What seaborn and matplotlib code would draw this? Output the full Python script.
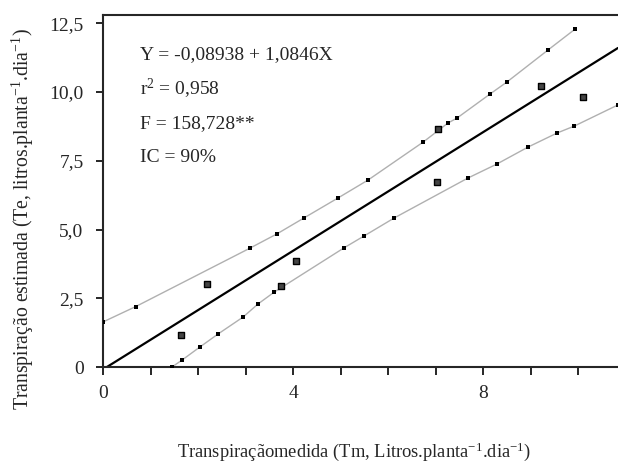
import matplotlib
matplotlib.use("Agg")
import matplotlib.pyplot as plt
import seaborn as sns
import pandas as pd

# measured vs estimated transpiration (observed points)
obs_x = [1.64, 2.19, 3.75, 4.06, 7.03, 7.05, 9.22, 10.10]
obs_y = [1.16, 3.02, 2.95, 3.85, 6.73, 8.65, 10.22, 9.82]

# fitted line, read at both ends
reg_x = [0.08, 10.84]
reg_y = [0.0, 11.60]

# upper and lower 90% band
up_x = [0.0, 0.69, 3.09, 3.66, 4.23, 4.95, 5.58, 6.74, 7.26, 7.45, 8.15, 8.50, 9.37, 9.94]
up_y = [1.64, 2.20, 4.32, 4.84, 5.42, 6.15, 6.80, 8.18, 8.87, 9.05, 9.93, 10.36, 11.53, 12.29]
lo_x = [1.45, 1.66, 2.04, 2.42, 2.95, 3.26, 3.60, 5.07, 5.49, 6.13, 7.68, 8.29, 8.95, 9.56, 9.92, 10.84]
lo_y = [0.0, 0.25, 0.73, 1.20, 1.82, 2.29, 2.72, 4.33, 4.76, 5.42, 6.87, 7.38, 8.00, 8.51, 8.76, 9.53]

y_ticks = [0, 2.5, 5.0, 7.5, 10.0, 12.5]
y_labels = ["0", "2,5", "5,0", "7,5", "10,0", "12,5"]
x_ticks = list(range(0, 11))
x_labels = ["0", "", "", "", "4", "", "", "", "8", "", ""]

stats_lines = ["Y = -0,08938 + 1,0846X", "r$^2$ = 0,958", "F = 158,728**", "IC = 90%"]

sns.set_style("ticks")
plt.rcParams["font.family"] = ["Liberation Serif", "DejaVu Serif"]
plt.rcParams["mathtext.fontset"] = "custom"
plt.rcParams["mathtext.rm"] = "Liberation Serif"
plt.rcParams["mathtext.it"] = "Liberation Serif:italic"
plt.rcParams["font.size"] = 14

fig = plt.figure(figsize=(6.18, 4.67), dpi=100)
ax = fig.add_axes([0.1667, 0.214, 0.8333, 0.754])

df_up = pd.DataFrame({"x": up_x, "y": up_y})
df_lo = pd.DataFrame({"x": lo_x, "y": lo_y})
for d in (df_up, df_lo):
    sns.lineplot(data=d, x="x", y="y", ax=ax, color="#b0b0b0", linewidth=1.0,
                 sort=False, estimator=None)
    sns.scatterplot(data=d, x="x", y="y", ax=ax, color="black", marker="s",
                    s=5, linewidth=0, zorder=3)

sns.lineplot(x=reg_x, y=reg_y, ax=ax, color="black", linewidth=1.6, estimator=None)
sns.scatterplot(x=obs_x, y=obs_y, ax=ax, marker="s", s=20, color="#444444",
                edgecolor="black", linewidth=1.0, zorder=4)

ax.set_xlim(0, 10.84)
ax.set_ylim(0, 12.8)
ax.set_xticks(x_ticks)
ax.set_xticklabels(x_labels)
ax.set_yticks(y_ticks)
ax.set_yticklabels(y_labels)
ax.tick_params(axis="x", direction="out", length=6, width=1.4, pad=7, labelsize=14)
ax.tick_params(axis="y", direction="out", length=5, width=1.4, pad=9, labelsize=14)

for side in ("left", "bottom", "top"):
    ax.spines[side].set_linewidth(1.5)
ax.spines["right"].set_visible(False)

ax.set_xlabel("Transpiraçãomedida (Tm, Litros.planta$^{-1}$.dia$^{-1}$)", fontsize=13.3,
              va="center")
ax.set_ylabel("Transpiração estimada (Te, litros.planta$^{-1}$.dia$^{-1}$)", fontsize=14.2,
              va="center")
ax.xaxis.set_label_coords(0.487, -0.24)
ax.yaxis.set_label_coords(-0.155, 0.42)

for i, line in enumerate(stats_lines):
    ax.text(0.072, 0.886 - i * 0.097, line, transform=ax.transAxes,
            fontsize=14, va="center", ha="left")

fig.savefig("out.png", dpi=100)
